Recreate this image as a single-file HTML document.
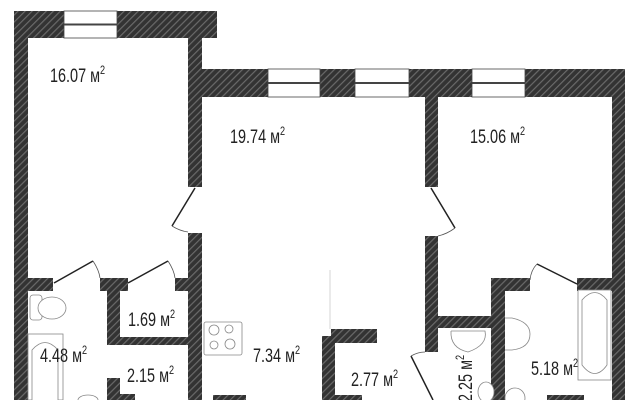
<!DOCTYPE html>
<html><head><meta charset="utf-8"><style>
html,body{margin:0;padding:0;background:#fff;width:640px;height:400px;overflow:hidden}
text{font-family:"Liberation Sans",sans-serif;fill:#222}
</style></head><body>
<svg width="640" height="400" viewBox="0 0 640 400" xmlns="http://www.w3.org/2000/svg">
<defs>
<pattern id="h" width="5" height="5" patternUnits="userSpaceOnUse" patternTransform="rotate(45)">
<rect width="5" height="5" fill="#333"/><rect width="1.2" height="5" fill="#6a6a6a"/>
</pattern>
</defs>
<g fill="url(#h)">
<rect x="14" y="11" width="50" height="27"/>
<rect x="117" y="11" width="100" height="27"/>
<rect x="14" y="11" width="14" height="389"/>
<rect x="188" y="11" width="14" height="176"/>
<rect x="188" y="233" width="14" height="167"/>
<rect x="202" y="69" width="66" height="28"/>
<rect x="320" y="69" width="35" height="28"/>
<rect x="409" y="69" width="63" height="28"/>
<rect x="525" y="69" width="100" height="28"/>
<rect x="612" y="69" width="13" height="331"/>
<rect x="425" y="97" width="13" height="90"/>
<rect x="425" y="236" width="13" height="116"/>
<rect x="28" y="278" width="25" height="13"/>
<rect x="100" y="278" width="28" height="13"/>
<rect x="175" y="278" width="27" height="13"/>
<rect x="107" y="291" width="13" height="53"/>
<rect x="107" y="337" width="81" height="8"/>
<rect x="107" y="378" width="13" height="22"/>
<rect x="120" y="394" width="15" height="6"/>
<rect x="213" y="395" width="33" height="5"/>
<rect x="322" y="336" width="13" height="64"/>
<rect x="331" y="329" width="46" height="14"/>
<rect x="335" y="395" width="27" height="5"/>
<rect x="438" y="316" width="54" height="12"/>
<rect x="491" y="278" width="14" height="122"/>
<rect x="491" y="278" width="39" height="13"/>
<rect x="577" y="278" width="48" height="13"/>
<rect x="547" y="395" width="37" height="5"/>
</g>
<g fill="#fff" stroke="#444" stroke-width="0.8">
<rect x="64" y="11" width="53" height="27"/><line x1="64" y1="24.5" x2="117" y2="24.5" stroke-width="2"/>
<rect x="268" y="69" width="52" height="28"/><line x1="268" y1="83" x2="320" y2="83" stroke-width="2"/>
<rect x="355" y="69" width="54" height="28"/><line x1="355" y1="83" x2="409" y2="83" stroke-width="2"/>
<rect x="472" y="69" width="53" height="28"/><line x1="472" y1="83" x2="525" y2="83" stroke-width="2"/>
</g>
<g stroke="#222" stroke-width="1.5" fill="none">
<line x1="195" y1="188" x2="172" y2="226"/>
<line x1="431" y1="188" x2="455" y2="228"/>
<line x1="54" y1="283" x2="93" y2="261"/>
<line x1="128" y1="283" x2="168" y2="261"/>
<line x1="537" y1="264" x2="577" y2="284"/>
<line x1="411" y1="356" x2="433" y2="400"/>
</g>
<g stroke="#555" stroke-width="0.8" fill="none">
<path d="M172 226 Q180 231 188 232"/>
<path d="M455 228 Q447 234 438 236"/>
<path d="M93 261 Q99 270 100 278"/>
<path d="M168 261 Q174 270 175 278"/>
<path d="M537 264 Q531 270 530 280"/>
<path d="M411 356 Q418 352 425 352"/>
<line x1="330" y1="270" x2="330" y2="329" stroke="#ccc"/>
</g>
<g stroke="#888" stroke-width="0.8" fill="#fff">
<rect x="204" y="322" width="38" height="33" rx="2"/>
<circle cx="214" cy="330" r="5"/><circle cx="229" cy="329" r="4"/><circle cx="214" cy="345" r="4"/><circle cx="230" cy="344" r="5"/>
<rect x="30" y="295" width="12" height="25" rx="3"/><ellipse cx="52" cy="308" rx="14" ry="11"/>
<rect x="28" y="334" width="35" height="66"/><path d="M32 400 V350 Q45 335 58 350 V400"/>
<rect x="578" y="290" width="33" height="90"/><path d="M582 300 Q595 285 607 300 V365 Q595 382 582 365 Z"/>
<path d="M505 318 H512 Q530 322 530 334 Q530 348 512 350 H505"/>
<path d="M451 331 H485 Q488 345 468 352 Q450 348 451 331"/>
<ellipse cx="515" cy="398" rx="10" ry="10"/>
<ellipse cx="486" cy="392" rx="8" ry="10"/>
<ellipse cx="88" cy="400" rx="10" ry="5"/>
</g>
<g font-size="19">
<text transform="translate(50,82) scale(0.76,1)">16.07 м<tspan font-size="12" dy="-8">2</tspan></text>
<text transform="translate(230,143) scale(0.76,1)">19.74 м<tspan font-size="12" dy="-8">2</tspan></text>
<text transform="translate(470,143) scale(0.76,1)">15.06 м<tspan font-size="12" dy="-8">2</tspan></text>
<text transform="translate(128,326) scale(0.76,1)">1.69 м<tspan font-size="12" dy="-8">2</tspan></text>
<text transform="translate(40,362) scale(0.76,1)">4.48 м<tspan font-size="12" dy="-8">2</tspan></text>
<text transform="translate(253,362) scale(0.76,1)">7.34 м<tspan font-size="12" dy="-8">2</tspan></text>
<text transform="translate(127,382) scale(0.76,1)">2.15 м<tspan font-size="12" dy="-8">2</tspan></text>
<text transform="translate(351,386) scale(0.76,1)">2.77 м<tspan font-size="12" dy="-8">2</tspan></text>
<text transform="translate(531,375) scale(0.76,1)">5.18 м<tspan font-size="12" dy="-8">2</tspan></text>
<text transform="translate(472,402) rotate(-90) scale(0.76,1)">2.25 м<tspan font-size="12" dy="-8">2</tspan></text>
</g>
</svg>
</body></html>
